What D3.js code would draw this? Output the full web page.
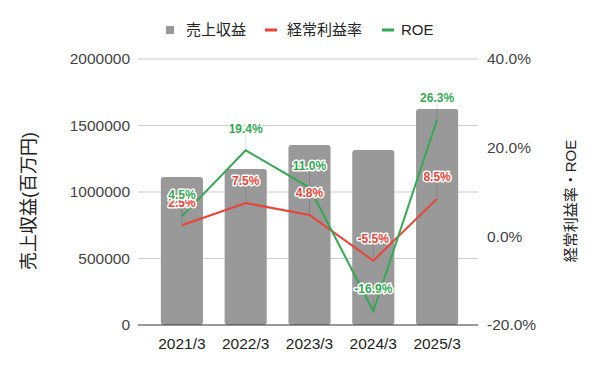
<!DOCTYPE html>
<html>
<head>
<meta charset="utf-8">
<script src="https://cdn.jsdelivr.net/npm/d3@7"></script>
<style>
  body { margin: 0; background: #fff; }
  svg { font-family: "Liberation Sans", Arial, "Noto Sans CJK JP", sans-serif; }
</style>
</head>
<body>
<svg id="chart" width="600" height="371"></svg>
<script>
  var years = ['2021/3', '2022/3', '2023/3', '2024/3', '2025/3'];
  var revenue = [1112000, 1173000, 1353000, 1316000, 1624000];
  var opMargin = [2.5, 7.5, 4.8, -5.5, 8.5];
  var roe = [4.5, 19.4, 11.0, -16.9, 26.3];
  var leftTicks = [0, 500000, 1000000, 1500000, 2000000];
  var rightTicks = [-20, 0, 20, 40];

  var gray = '#999999', red = '#ea4335', green = '#34a853';
  var svg = d3.select('#chart');

  var plot = { left: 138, right: 478, top: 59, bottom: 325 };

  var x = d3.scaleBand()
    .domain(years)
    .range([150, 469])
    .paddingInner(0.34)
    .paddingOuter(0.17);

  var yL = d3.scaleLinear().domain([0, 2000000]).range([plot.bottom, plot.top]);
  var yR = d3.scaleLinear().domain([-20, 40]).range([plot.bottom, plot.top]);

  // gridlines (follow the left axis)
  svg.append('g')
    .selectAll('line')
    .data(leftTicks.slice(1))
    .join('line')
      .attr('x1', plot.left).attr('x2', plot.right)
      .attr('y1', function (d) { return yL(d); })
      .attr('y2', function (d) { return yL(d); })
      .attr('stroke', '#cccccc');

  // left axis labels
  svg.append('g')
    .selectAll('text')
    .data(leftTicks)
    .join('text')
      .attr('x', 130)
      .attr('y', function (d) { return yL(d); })
      .attr('dy', '0.35em')
      .attr('text-anchor', 'end')
      .attr('font-size', 15.5)
      .attr('fill', '#444')
      .text(function (d) { return d; });

  // right axis labels
  svg.append('g')
    .selectAll('text')
    .data(rightTicks)
    .join('text')
      .attr('x', 487)
      .attr('y', function (d) { return yR(d); })
      .attr('dy', '0.35em')
      .attr('font-size', 15.5)
      .attr('fill', '#444')
      .text(function (d) { return d.toFixed(1) + '%'; });

  // bars
  svg.append('g')
    .selectAll('rect')
    .data(revenue)
    .join('rect')
      .attr('x', function (d, i) { return x(years[i]); })
      .attr('y', function (d) { return yL(d); })
      .attr('width', x.bandwidth())
      .attr('height', function (d) { return yL(0) - yL(d); })
      .attr('rx', 3)
      .attr('fill', gray);

  // baseline
  svg.append('line')
    .attr('x1', plot.left).attr('x2', plot.right)
    .attr('y1', plot.bottom).attr('y2', plot.bottom)
    .attr('stroke', '#333');

  // x labels
  svg.append('g')
    .selectAll('text')
    .data(years)
    .join('text')
      .attr('x', function (d) { return x(d) + x.bandwidth() / 2; })
      .attr('y', 349)
      .attr('text-anchor', 'middle')
      .attr('font-size', 15.5)
      .attr('fill', '#222')
      .text(function (d) { return d; });

  var cx = function (i) { return x(years[i]) + x.bandwidth() / 2; };
  var line = d3.line()
    .x(function (d, i) { return cx(i); })
    .y(function (d) { return yR(d); });

  [[opMargin, red], [roe, green]].forEach(function (s) {
    svg.append('path')
      .datum(s[0])
      .attr('d', line)
      .attr('fill', 'none')
      .attr('stroke', s[1])
      .attr('stroke-width', 2);
  });

  // data labels with faint leader lines
  [[opMargin, red], [roe, green]].forEach(function (s) {
    var g = svg.append('g');
    g.selectAll('line')
      .data(s[0])
      .join('line')
        .attr('x1', function (d, i) { return cx(i); })
        .attr('x2', function (d, i) { return cx(i); })
        .attr('y1', function (d) { return yR(d) - 16; })
        .attr('y2', function (d) { return yR(d) - 2; })
        .attr('stroke', '#000')
        .attr('stroke-opacity', 0.12);
    g.selectAll('text')
      .data(s[0])
      .join('text')
        .attr('x', function (d, i) { return cx(i); })
        .attr('y', function (d) { return yR(d) - 22; })
        .attr('dy', '0.35em')
        .attr('text-anchor', 'middle')
        .attr('font-size', 12)
        .attr('font-weight', 'bold')
        .attr('fill', s[1])
        .attr('stroke', '#fff')
        .attr('stroke-width', 3)
        .attr('stroke-linejoin', 'round')
        .attr('paint-order', 'stroke')
        .text(function (d) { return d.toFixed(1) + '%'; });
  });

  // axis titles
  svg.append('text')
    .attr('transform', 'translate(29,201) rotate(-90)')
    .attr('dy', '0.35em')
    .attr('text-anchor', 'middle')
    .attr('font-size', 18)
    .attr('fill', '#222')
    .text('売上収益(百万円)');

  svg.append('text')
    .attr('transform', 'translate(571,201) rotate(-90)')
    .attr('dy', '0.35em')
    .attr('text-anchor', 'middle')
    .attr('font-size', 15)
    .attr('fill', '#222')
    .text('経常利益率・ROE');

  // legend
  var legend = svg.append('g').attr('font-size', 15).attr('fill', '#222');
  legend.append('rect').attr('x', 166).attr('y', 26).attr('width', 8).attr('height', 8).attr('fill', gray);
  legend.append('text').attr('x', 186).attr('y', 30).attr('dy', '0.35em').text('売上収益');
  legend.append('rect').attr('x', 265).attr('y', 28.5).attr('width', 12).attr('height', 3).attr('fill', red);
  legend.append('text').attr('x', 287).attr('y', 30).attr('dy', '0.35em').text('経常利益率');
  legend.append('rect').attr('x', 382).attr('y', 28.5).attr('width', 12).attr('height', 3).attr('fill', green);
  legend.append('text').attr('x', 401).attr('y', 30).attr('dy', '0.35em').text('ROE');
</script>
</body>
</html>
